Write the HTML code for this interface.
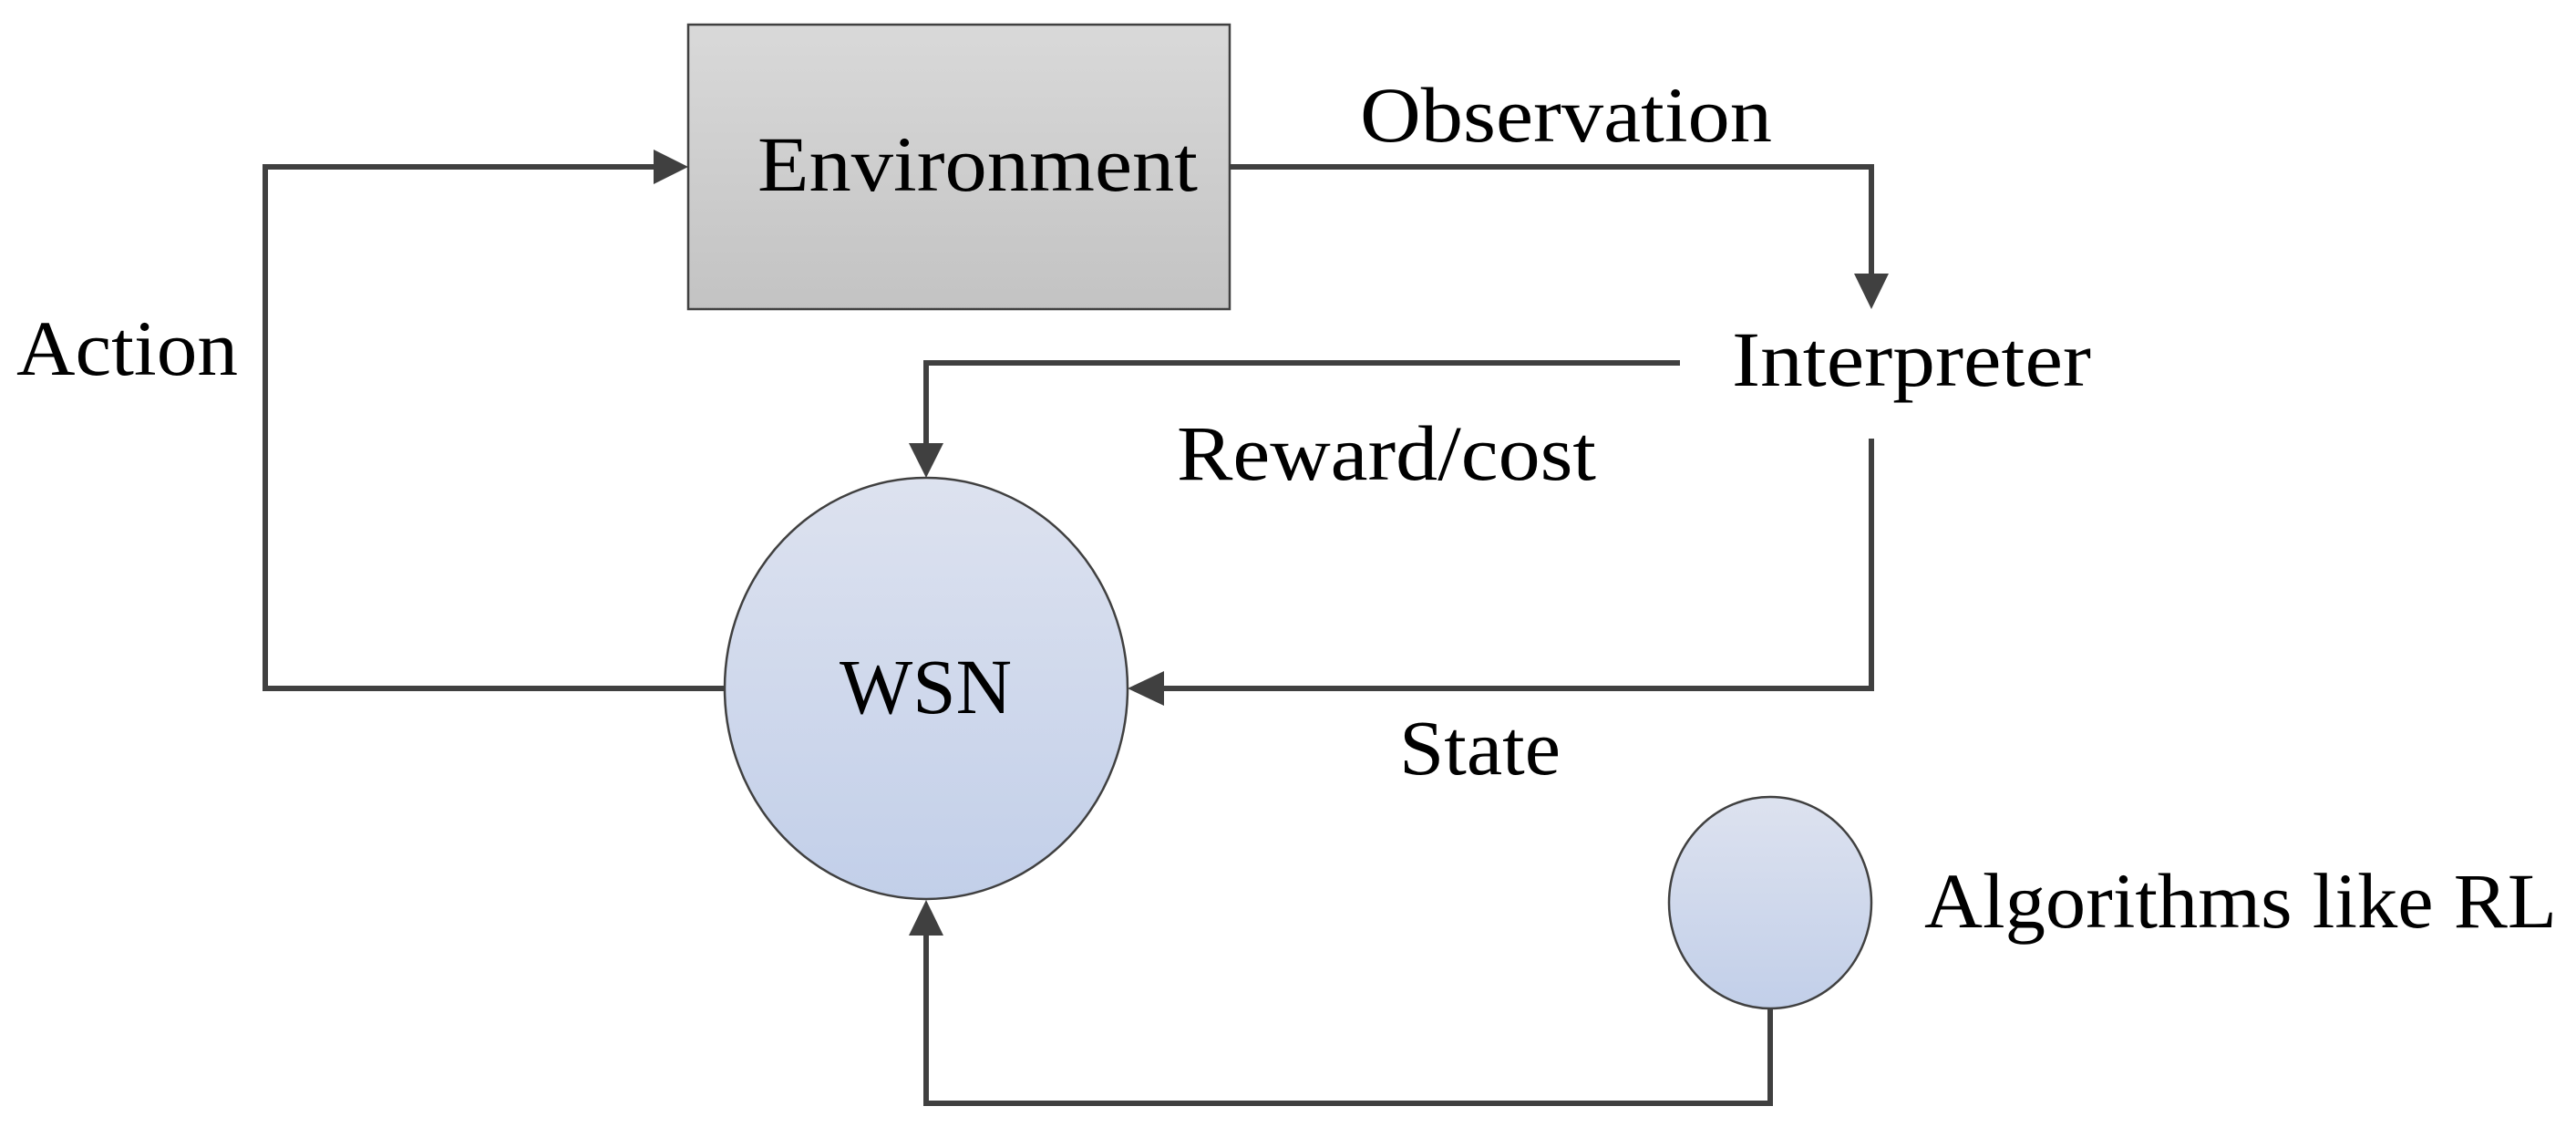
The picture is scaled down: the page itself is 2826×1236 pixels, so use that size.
<!DOCTYPE html>
<html><head><meta charset="utf-8"><style>html,body{margin:0;padding:0;background:#fff}svg{display:block}</style></head>
<body>
<svg width="2826" height="1236" viewBox="0 0 2826 1236" xmlns="http://www.w3.org/2000/svg">
<defs>
<linearGradient id="g1" x1="0" y1="0" x2="0" y2="1"><stop offset="0" stop-color="#d9d9d9"/><stop offset="1" stop-color="#c3c3c3"/></linearGradient>
<linearGradient id="g2" x1="0" y1="0" x2="0" y2="1"><stop offset="0" stop-color="#dde2ef"/><stop offset="1" stop-color="#c2cfe9"/></linearGradient>
</defs>
<g fill="none" stroke="#404040" stroke-width="6">
<rect x="755" y="27" width="594" height="312" fill="url(#g1)" stroke-width="2.5"/>
<ellipse cx="1016" cy="755" rx="221" ry="231" fill="url(#g2)" stroke-width="2.5"/>
<ellipse cx="1942" cy="990" rx="111" ry="116" fill="url(#g2)" stroke-width="2.5"/>
<polyline points="795,755 291,755 291,183 720,183"/>
<polyline points="1349,183 2053,183 2053,305"/>
<polyline points="1843,398 1016,398 1016,490"/>
<polyline points="2053,481 2053,755 1272,755"/>
<polyline points="1942,1106 1942,1210 1016,1210 1016,1022"/>
</g>
<g fill="#404040">
<polygon points="755,183 717,164 717,202"/>
<polygon points="2053,339 2034,300 2072,300"/>
<polygon points="1016,524 997,486 1035,486"/>
<polygon points="1237,755 1277,736 1277,774"/>
<polygon points="1016,987 997,1026 1035,1026"/>
</g>
<g font-family="'Liberation Serif', serif" font-size="86" fill="#000">
<text x="831" y="209" textLength="483" lengthAdjust="spacingAndGlyphs">Environment</text>
<text x="1492" y="155" textLength="452" lengthAdjust="spacingAndGlyphs">Observation</text>
<text x="1900" y="423" textLength="394" lengthAdjust="spacingAndGlyphs">Interpreter</text>
<text x="18" y="411" textLength="243" lengthAdjust="spacingAndGlyphs">Action</text>
<text x="1291" y="526" textLength="460" lengthAdjust="spacingAndGlyphs">Reward/cost</text>
<text x="921" y="782" textLength="189" lengthAdjust="spacingAndGlyphs">WSN</text>
<text x="1535" y="849" textLength="177" lengthAdjust="spacingAndGlyphs">State</text>
<text x="2111" y="1017" textLength="694" lengthAdjust="spacingAndGlyphs">Algorithms like RL</text>
</g>
</svg>
</body></html>
